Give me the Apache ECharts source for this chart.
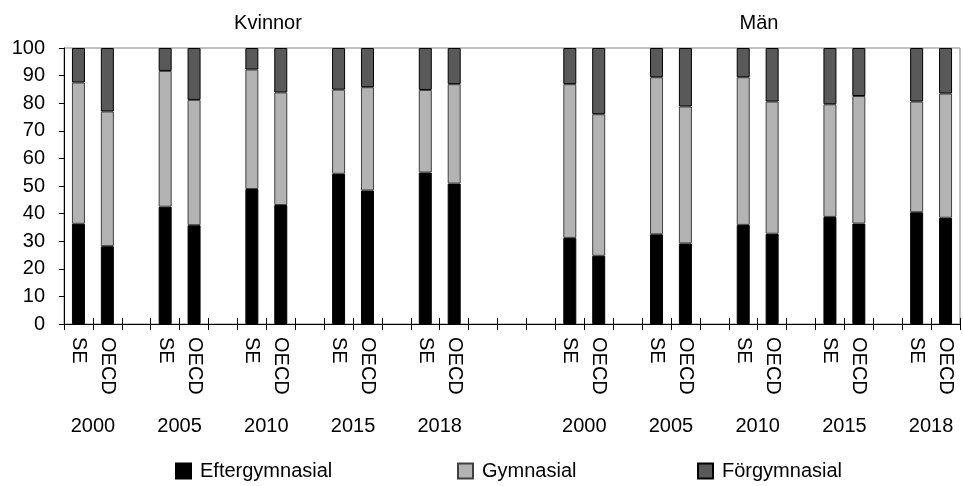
<!DOCTYPE html>
<html lang="sv">
<head>
    <meta charset="UTF-8">
    <title>Utbildningsnivå</title>
    <style>
        html, body {
            margin: 0;
            padding: 0;
            background: #fff;
        }

        #chart {
            width: 963px;
            height: 486px;
        }
    </style>
</head>
<body>
<div id='chart'></div>

<script src='https://cdn.jsdelivr.net/npm/echarts@6/dist/echarts.min.js'></script>
<script>
    var groups = ['Kvinnor', 'Män'];
    var years = ['2000', '2005', '2010', '2015', '2018'];
    var countries = ['SE', 'OECD'];
    var yTicks = [0, 100, 10];   // min, max, steg

    // ordning: per grupp, per år: SE, OECD
    var eftergymnasial = [36.3, 28.2, 42.5, 35.8, 48.9, 43.1, 54.4, 48.4, 54.9, 50.9,
        31.2, 24.7, 32.5, 29.2, 35.9, 32.7, 38.8, 36.4, 40.5, 38.5];
    var gymnasial = [51.2, 48.8, 49.2, 45.4, 43.3, 40.8, 30.5, 37.4, 29.9, 36.0,
        55.7, 51.3, 56.9, 49.6, 53.5, 47.9, 40.8, 46.2, 40.1, 45.0];
    var forgymnasial = [12.5, 23.0, 8.3, 18.8, 7.8, 16.1, 15.1, 14.2, 15.2, 13.1,
        13.1, 24.0, 10.6, 21.2, 10.6, 19.4, 20.4, 17.4, 19.4, 16.5];

    var font = "'Liberation Sans', Arial, sans-serif";

    // bygg kategorierna med tomma platser mellan åren
    var cats = [], sEfter = [], sGym = [], sFor = [], yearLabels = [];
    var k = 0;
    for (var g = 0; g < groups.length; g++) {
        if (g > 0) {
            cats.push(''); cats.push('');
            sEfter.push(null, null); sGym.push(null, null); sFor.push(null, null);
            yearLabels.push('', '');
        }
        for (var i = 0; i < years.length; i++) {
            for (var c = 0; c < countries.length; c++) {
                cats.push(countries[c]);
                sEfter.push(eftergymnasial[k]);
                sGym.push(gymnasial[k]);
                sFor.push(forgymnasial[k]);
                yearLabels.push(c === 1 ? years[i] : '');
                k++;
            }
            if (!(g === groups.length - 1 && i === years.length - 1)) {
                cats.push('');
                sEfter.push(null); sGym.push(null); sFor.push(null);
                yearLabels.push('');
            }
        }
    }
    yearLabels.push('');  // sista gränsen

    var chart = echarts.init(document.getElementById('chart'));
    var option = {
        animation: false,
        backgroundColor: '#fff',
        textStyle: {fontFamily: font},
        title: [
            {text: groups[0], left: 268, top: 13, padding: 0, textAlign: 'center',
                textStyle: {fontFamily: font, fontSize: 20, fontWeight: 'normal', color: '#000'}},
            {text: groups[1], left: 759, top: 13, padding: 0, textAlign: 'center',
                textStyle: {fontFamily: font, fontSize: 20, fontWeight: 'normal', color: '#000'}}
        ],
        legend: [
            {data: ['Eftergymnasial'], left: 175, top: 461},
            {data: ['Gymnasial'], left: 457, top: 461},
            {data: ['Förgymnasial'], left: 697, top: 461}
        ].map(function (l) {
            l.padding = 0;
            l.itemWidth = 15;
            l.itemHeight = 15;
            l.icon = 'rect';
            l.selectedMode = false;
            l.textStyle = {fontFamily: font, fontSize: 20, color: '#000', padding: [0, 0, 0, 4]};
            return l;
        }),
        grid: {
            left: 64,
            right: -3,
            top: 48,
            bottom: 162,
            show: true,
            borderColor: '#868686',
            borderWidth: 1,
            backgroundColor: 'transparent'
        },
        xAxis: [
            {
                type: 'category',
                data: cats,
                boundaryGap: true,
                axisLine: {lineStyle: {color: '#000', width: 1}},
                axisTick: {show: true, interval: 0, length: 6, lineStyle: {color: '#000'}},
                axisLabel: {
                    interval: 0,
                    rotate: -90,
                    margin: 13,
                    fontFamily: font,
                    fontSize: 20,
                    color: '#000'
                },
                splitLine: {show: false}
            },
            {
                type: 'category',
                data: yearLabels,
                boundaryGap: false,
                position: 'bottom',
                axisLine: {show: false},
                axisTick: {show: true, inside: true, interval: 0, length: 6, lineStyle: {color: '#000'}},
                axisLabel: {
                    interval: 0,
                    margin: 92,
                    fontFamily: font,
                    fontSize: 20,
                    color: '#000',
                    hideOverlap: false
                },
                splitLine: {show: false}
            }
        ],
        yAxis: {
            type: 'value',
            min: yTicks[0],
            max: yTicks[1],
            interval: yTicks[2],
            axisLine: {show: true, lineStyle: {color: '#000', width: 1}},
            axisTick: {show: true, length: 5, lineStyle: {color: '#000'}},
            axisLabel: {margin: 19, fontFamily: font, fontSize: 20, color: '#000'},
            splitLine: {show: false}
        },
        series: [
            {
                name: 'Eftergymnasial',
                type: 'bar',
                stack: 'tot',
                barWidth: 13,
                data: sEfter,
                itemStyle: {color: '#000', borderColor: '#000', borderWidth: 1}
            },
            {
                name: 'Gymnasial',
                type: 'bar',
                stack: 'tot',
                barWidth: 13,
                data: sGym,
                itemStyle: {color: '#b3b3b3', borderColor: '#404040', borderWidth: 1}
            },
            {
                name: 'Förgymnasial',
                type: 'bar',
                stack: 'tot',
                barWidth: 13,
                data: sFor,
                itemStyle: {color: '#595959', borderColor: '#000', borderWidth: 1}
            }
        ]
    };
    chart.setOption(option);
</script>
</body>
</html>
